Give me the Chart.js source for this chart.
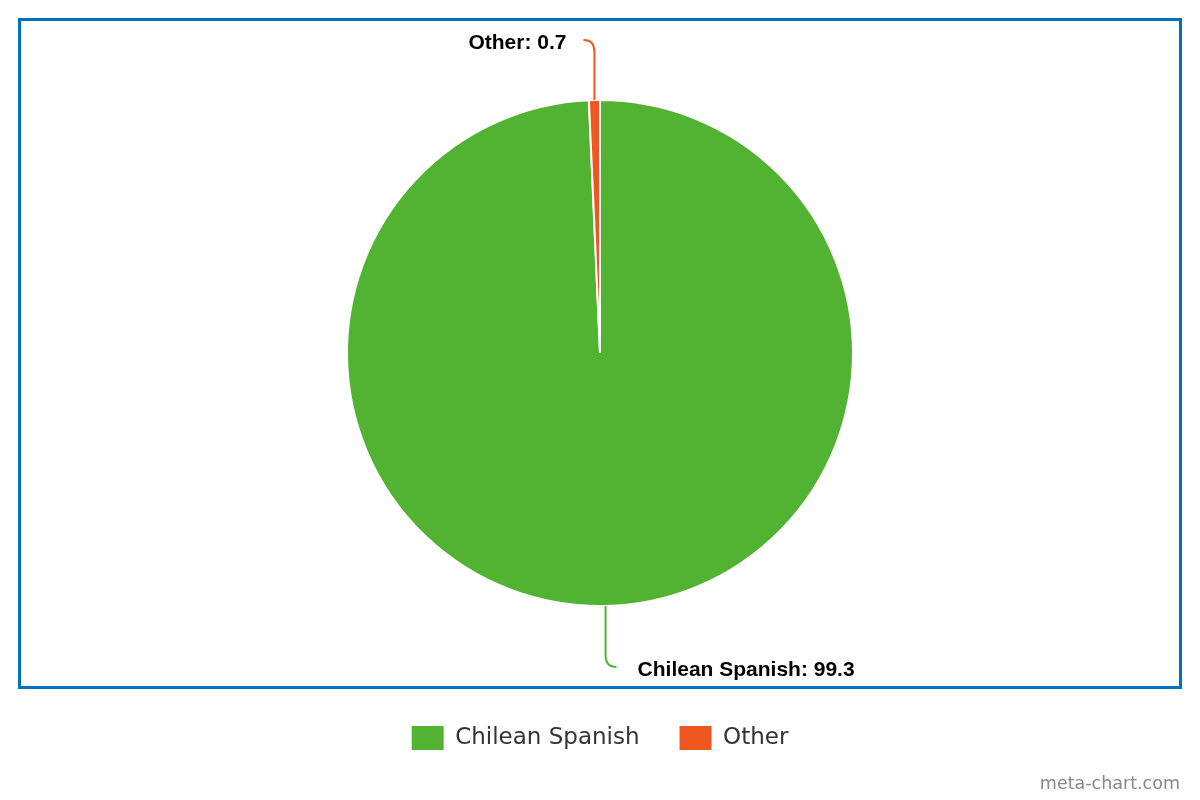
<!DOCTYPE html>
<html><head><meta charset="utf-8">
<script src="https://cdn.jsdelivr.net/npm/chart.js@4/dist/chart.umd.min.js"></script>
<style>html,body{margin:0;padding:0;background:#fff}#wrap{width:1200px;height:800px;position:relative}</style>
</head><body><div id="wrap"><canvas id="c" width="1200" height="800"></canvas></div>
<script>
const categories = ["Chilean Spanish", "Other"];
const values = [99.3, 0.7];
const colors = ["#52b232", "#ef5620"];

const framePlugin = {
  id: 'frame',
  beforeDraw(chart) {
    const ctx = chart.ctx;
    ctx.save();
    ctx.fillStyle = '#fff';
    ctx.fillRect(0, 0, chart.width, chart.height);
    ctx.strokeStyle = '#0070c0';
    ctx.lineWidth = 3;
    ctx.strokeRect(19.5, 19.5, 1161, 668);
    ctx.restore();
  },
  afterDraw(chart) {
    const ctx = chart.ctx;
    ctx.save();
    ctx.font = '17.5px "DejaVu Sans"';
    ctx.fillStyle = '#888';
    ctx.textAlign = 'right';
    ctx.textBaseline = 'alphabetic';
    ctx.fillText('meta-chart.com', 1180, 789);
    ctx.restore();
  }
};

const labelPlugin = {
  id: 'leaderLabels',
  afterDatasetsDraw(chart) {
    const ctx = chart.ctx;
    const meta = chart.getDatasetMeta(0);
    meta.data.forEach((arc, i) => {
      const p = arc.getProps(['x','y','startAngle','endAngle','outerRadius']);
      const mid = (p.startAngle + p.endAngle) / 2;
      const ex = p.x + Math.cos(mid) * p.outerRadius;
      const ey = p.y + Math.sin(mid) * p.outerRadius;
      const up = Math.sin(mid) < 0;
      const dir = up ? -1 : 1;
      const side = Math.cos(mid) < 0 ? -1 : 1;
      const len = up ? 60 : 61;
      const endY = ey + dir * len;
      const endX = ex + side * 11;
      ctx.save();
      ctx.strokeStyle = colors[i];
      ctx.lineWidth = 2;
      ctx.beginPath();
      ctx.moveTo(ex, ey);
      ctx.lineTo(ex, endY - dir * 12);
      ctx.quadraticCurveTo(ex, endY, endX, endY);
      ctx.stroke();
      ctx.font = 'bold 21px "Liberation Sans", Arial, sans-serif';
      ctx.fillStyle = '#000';
      ctx.textBaseline = 'middle';
      ctx.textAlign = side < 0 ? 'right' : 'left';
      ctx.fillText(categories[i] + ': ' + values[i], endX + side * (side < 0 ? 17 : 21), endY + 3);
      ctx.restore();
    });
  }
};

new Chart(document.getElementById('c'), {
  type: 'pie',
  data: {
    labels: categories,
    datasets: [{
      data: values,
      backgroundColor: colors,
      borderColor: '#fff',
      borderWidth: 2,
      radius: 253
    }]
  },
  options: {
    responsive: false,
    animation: false,
    layout: { padding: { top: 20, left: 347, right: 347, bottom: 40 } },
    plugins: {
      tooltip: { enabled: false },
      legend: {
        position: 'bottom',
        labels: {
          boxWidth: 32,
          boxHeight: 24,
          padding: 40,
          color: '#333',
          font: { family: '"DejaVu Sans"', size: 23 },
          generateLabels(chart) {
            const items = Chart.overrides.pie.plugins.legend.labels.generateLabels(chart);
            items.forEach(it => { it.lineWidth = 0; it.strokeStyle = 'rgba(0,0,0,0)'; });
            return items;
          }
        }
      }
    }
  },
  plugins: [framePlugin, labelPlugin]
});
</script></body></html>
